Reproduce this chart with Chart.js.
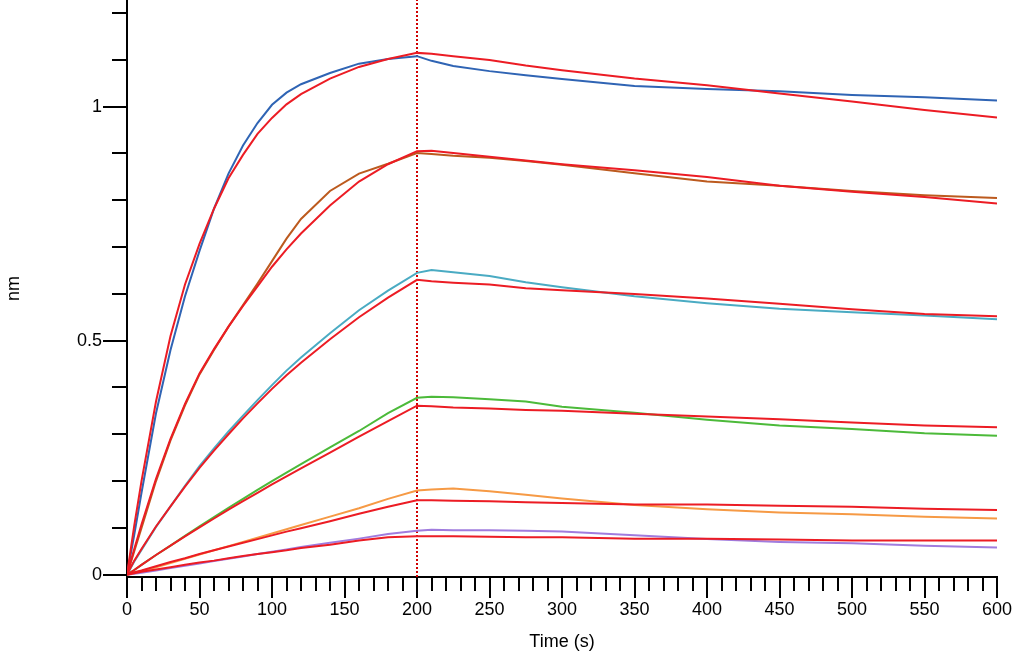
<!DOCTYPE html>
<html>
<head>
<meta charset="utf-8">
<script src="https://cdn.jsdelivr.net/npm/chart.js@4"></script>
<style>
  html, body { margin: 0; padding: 0; background: #fff; }
</style>
</head>
<body>
<canvas id="bliChart" width="1013" height="655"></canvas>
<script>
// sample times (s): association 0-200, dissociation 200-600
const times = [0, 5, 10, 20, 30, 40, 50, 60, 70, 80, 90, 100, 110, 120, 140, 160, 180, 200,
  210, 225, 250, 275, 300, 350, 400, 450, 500, 550, 600];

// measured responses (nm), highest to lowest concentration
const trace1 = [0, 0.085, 0.175, 0.345, 0.48, 0.595, 0.692, 0.782, 0.857, 0.917, 0.965, 1.004, 1.03, 1.048, 1.072, 1.092, 1.102, 1.108,
  1.098, 1.087, 1.076, 1.067, 1.059, 1.044, 1.038, 1.033, 1.025, 1.02, 1.013];
const trace2 = [0, 0.05, 0.1, 0.2, 0.287, 0.362, 0.428, 0.48, 0.53, 0.576, 0.622, 0.67, 0.718, 0.76, 0.82, 0.857, 0.878, 0.901,
  0.899, 0.895, 0.891, 0.884, 0.876, 0.858, 0.84, 0.831, 0.82, 0.811, 0.805];
const trace3 = [0, 0.028, 0.053, 0.102, 0.146, 0.19, 0.232, 0.27, 0.306, 0.34, 0.373, 0.405, 0.436, 0.464, 0.516, 0.565, 0.607, 0.645,
  0.651, 0.646, 0.638, 0.625, 0.614, 0.595, 0.58, 0.568, 0.561, 0.554, 0.546];
const trace4 = [0, 0.01, 0.021, 0.042, 0.062, 0.083, 0.103, 0.123, 0.143, 0.162, 0.181, 0.2, 0.218, 0.236, 0.272, 0.307, 0.345, 0.378,
  0.38, 0.379, 0.375, 0.37, 0.359, 0.346, 0.331, 0.319, 0.311, 0.302, 0.297];
const trace5 = [0, 0.004, 0.008, 0.016, 0.025, 0.034, 0.043, 0.052, 0.061, 0.07, 0.079, 0.088, 0.097, 0.106, 0.124, 0.142, 0.162, 0.18,
  0.182, 0.184, 0.178, 0.171, 0.163, 0.149, 0.14, 0.133, 0.129, 0.124, 0.12];
const trace6 = [0, 0.002, 0.004, 0.009, 0.014, 0.019, 0.024, 0.029, 0.034, 0.039, 0.044, 0.049, 0.054, 0.059, 0.068, 0.077, 0.087, 0.094,
  0.096, 0.095, 0.095, 0.094, 0.092, 0.084, 0.076, 0.07, 0.067, 0.062, 0.058];

// global fit curves (nm)
const fit1 = [0, 0.105, 0.2, 0.37, 0.51, 0.62, 0.707, 0.782, 0.847, 0.897, 0.942, 0.976, 1.005, 1.027, 1.06, 1.085, 1.102, 1.115,
  1.113, 1.108, 1.1, 1.088, 1.078, 1.06, 1.046, 1.028, 1.011, 0.993, 0.977];
const fit2 = [0, 0.055, 0.107, 0.205, 0.29, 0.365, 0.43, 0.482, 0.53, 0.574, 0.616, 0.658, 0.695, 0.729, 0.789, 0.84, 0.877, 0.905,
  0.906, 0.901, 0.893, 0.885, 0.877, 0.864, 0.85, 0.831, 0.818, 0.807, 0.793];
const fit3 = [0, 0.03, 0.055, 0.103, 0.146, 0.188, 0.228, 0.265, 0.3, 0.334, 0.366, 0.397, 0.426, 0.453, 0.503, 0.55, 0.592, 0.63,
  0.627, 0.624, 0.62, 0.612, 0.608, 0.6, 0.59, 0.579, 0.567, 0.557, 0.552];
const fit4 = [0, 0.01, 0.021, 0.042, 0.062, 0.082, 0.101, 0.12, 0.139, 0.157, 0.175, 0.193, 0.21, 0.227, 0.261, 0.295, 0.328, 0.361,
  0.36, 0.357, 0.355, 0.352, 0.35, 0.344, 0.338, 0.332, 0.325, 0.319, 0.315];
const fit5 = [0, 0.005, 0.009, 0.018, 0.027, 0.035, 0.044, 0.052, 0.06, 0.068, 0.076, 0.084, 0.092, 0.099, 0.114, 0.13, 0.145, 0.159,
  0.159, 0.158, 0.157, 0.155, 0.153, 0.15, 0.15, 0.147, 0.145, 0.141, 0.138];
const fit6 = [0, 0.003, 0.006, 0.011, 0.016, 0.021, 0.026, 0.03, 0.035, 0.04, 0.044, 0.048, 0.052, 0.057, 0.064, 0.073, 0.08, 0.082,
  0.082, 0.082, 0.081, 0.08, 0.08, 0.077, 0.077, 0.075, 0.073, 0.073, 0.073];

// end of association step (s)
const assocEnd = 200;

// labelled ticks
const xTickLabels = [0, 50, 100, 150, 200, 250, 300, 350, 400, 450, 500, 550, 600];
const yTickLabels = [0, 0.5, 1];

const traceColors = ["#2F64B4", "#BC5A1E", "#4AABC3", "#4CBA3A", "#F69A45", "#A07CDE"];
const fitColor = "#EC1C24";

const toPoints = (vals) => times.map((t, i) => ({ x: t, y: vals[i] }));
const isLabelled = (v, list) => list.some((l) => Math.abs(l - v) < 1e-6);

const yMin = -0.005;
const yMax = 1.228;

const datasets = [];
[fit1, fit2, fit3, fit4, fit5, fit6].forEach((f) => {
  datasets.push({ data: toPoints(f), borderColor: fitColor, borderWidth: 2, order: 1 });
});
[trace1, trace2, trace3, trace4, trace5, trace6].forEach((tr, i) => {
  datasets.push({ data: toPoints(tr), borderColor: traceColors[i], borderWidth: 2, order: 2 });
});
datasets.push({
  data: [{ x: assocEnd, y: yMin }, { x: assocEnd, y: yMax }],
  borderColor: "#D00000",
  borderWidth: 2,
  borderDash: [2, 2],
  order: 3,
});

// tick marks: long at labelled values, short elsewhere
const tickMarks = {
  id: "tickMarks",
  afterDraw(chart) {
    const { ctx, scales: { x, y } } = chart;
    ctx.save();
    ctx.strokeStyle = "#000";
    ctx.lineWidth = 2;
    ctx.beginPath();
    x.ticks.forEach((t) => {
      const px = Math.round(x.getPixelForValue(t.value));
      const len = isLabelled(t.value, xTickLabels) ? 21 : 14;
      ctx.moveTo(px, x.top);
      ctx.lineTo(px, x.top + len);
    });
    y.ticks.forEach((t) => {
      const py = Math.round(y.getPixelForValue(t.value));
      const len = isLabelled(t.value, yTickLabels) ? 24 : 15;
      ctx.moveTo(y.right - len, py);
      ctx.lineTo(y.right, py);
    });
    ctx.stroke();
    ctx.restore();
  },
};

const font = { family: "Liberation Sans, Arial, sans-serif", size: 18 };

new Chart(document.getElementById("bliChart"), {
  type: "line",
  data: { datasets },
  options: {
    responsive: false,
    animation: false,
    devicePixelRatio: 1,
    layout: { padding: { top: 0, right: 16, bottom: 0, left: 0 } },
    elements: { point: { radius: 0 }, line: { tension: 0 } },
    plugins: { legend: { display: false }, tooltip: { enabled: false } },
    scales: {
      x: {
        type: "linear",
        min: 0,
        max: 600,
        afterFit: (s) => { s.height = 78; s.paddingLeft = 0; s.paddingRight = 0; },
        grid: { drawOnChartArea: false, drawTicks: true, tickLength: 21, tickColor: "rgba(0,0,0,0)" },
        border: { color: "#000", width: 2 },
        ticks: {
          stepSize: 10,
          autoSkip: false,
          maxRotation: 0,
          includeBounds: false,
          padding: 1,
          color: "#000",
          font,
          callback: (v) => (isLabelled(v, xTickLabels) ? String(v) : ""),
        },
        title: { display: true, text: "Time (s)", color: "#000", font, padding: { top: 0, bottom: 2 } },
      },
      y: {
        min: yMin,
        max: yMax,
        afterFit: (s) => { s.width = 127; s.paddingTop = 0; s.paddingBottom = 0; },
        grid: { drawOnChartArea: false, drawTicks: true, tickLength: 24, tickColor: "rgba(0,0,0,0)" },
        border: { color: "#000", width: 2 },
        ticks: {
          stepSize: 0.1,
          autoSkip: false,
          includeBounds: false,
          padding: 1,
          color: "#000",
          font,
          callback: (v) => {
            const hit = yTickLabels.find((l) => Math.abs(l - v) < 1e-6);
            return hit === undefined ? "" : String(hit);
          },
        },
        title: { display: true, text: "nm", color: "#000", font, padding: { top: 3, bottom: 0 } },
      },
    },
  },
  plugins: [tickMarks],
});
</script>
</body>
</html>
